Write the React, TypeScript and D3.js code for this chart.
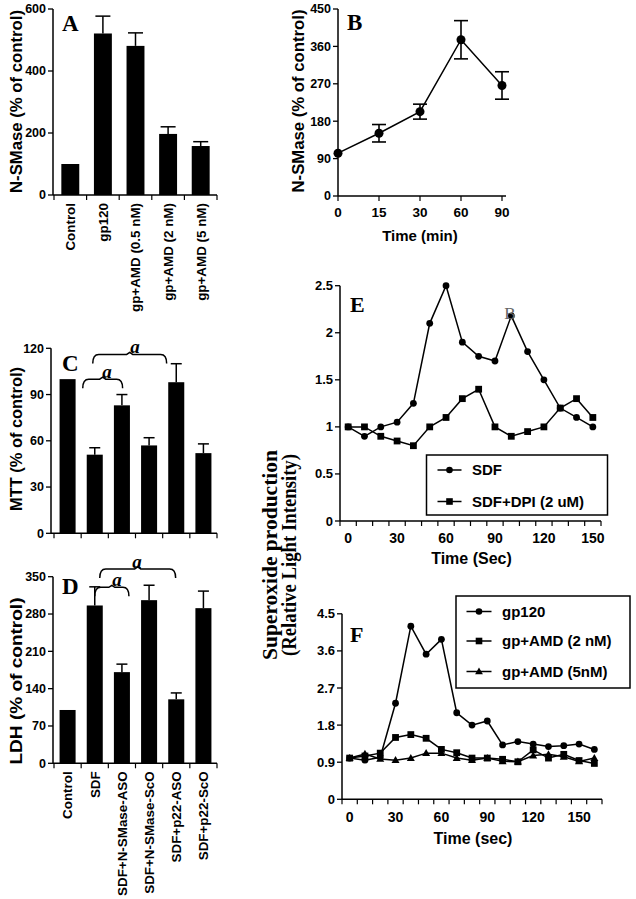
import React from "react";
import * as d3 from "d3";

const SANS = "'Liberation Sans', Arial, Helvetica, sans-serif";
const SERIF = "'Liberation Serif', 'Times New Roman', Times, serif";

// ---------- Panel A ----------
const aCategories = ["Control", "gp120", "gp+AMD (0.5 nM)", "gp+AMD (2 nM)", "gp+AMD (5 nM)"];
const aValues = [100, 521, 481, 197, 158];
const aErrors = [0, 56, 42, 23, 14];
const aTicks = [0, 200, 400, 600];

// ---------- Panel B ----------
const bTimes = ["0", "15", "30", "60", "90"];
const bValues = [103, 151, 203, 376, 266];
const bErrors = [0, 21, 18, 46, 33];
const bTicks = [0, 90, 180, 270, 360, 450];

// ---------- Panel C ----------
const cCategories = ["Control", "SDF", "SDF+N-SMase-ASO", "SDF+N-SMase-ScO", "SDF+p22-ASO", "SDF+p22-ScO"];
const cValues = [100, 51, 83, 57, 98, 52];
const cErrors = [0, 4.5, 7, 5, 12, 6];
const cTicks = [0, 30, 60, 90, 120];

// ---------- Panel D ----------
const dCategories = ["Control", "SDF", "SDF+N-SMase-ASO", "SDF+N-SMase-ScO", "SDF+p22-ASO", "SDF+p22-ScO"];
const dValues = [100, 296, 171, 306, 120, 291];
const dErrors = [0, 35, 15, 28, 12, 32];
const dTicks = [0, 70, 140, 210, 280, 350];

// ---------- Panel E ----------
const eTimes = [0, 10, 20, 30, 40, 50, 60, 70, 80, 90, 100, 110, 120, 130, 140, 150];
const eSDF = [1.0, 0.9, 1.0, 1.05, 1.25, 2.1, 2.5, 1.9, 1.75, 1.7, 2.18, 1.8, 1.5, 1.2, 1.1, 1.0];
const eSDFDPI = [1.0, 1.0, 0.9, 0.85, 0.8, 1.0, 1.1, 1.3, 1.4, 1.0, 0.9, 0.95, 1.0, 1.2, 1.3, 1.1];
const eYTicks = [0, 0.5, 1, 1.5, 2, 2.5];
const eXLabels = [0, 30, 60, 90, 120, 150];

// ---------- Panel F ----------
const fTimes = [0, 10, 20, 30, 40, 50, 60, 70, 80, 90, 100, 110, 120, 130, 140, 150, 160];
const fGp120 = [1.0, 0.95, 1.02, 2.33, 4.2, 3.52, 3.88, 2.1, 1.8, 1.9, 1.32, 1.4, 1.34, 1.28, 1.3, 1.34, 1.21];
const fAMD2 = [1.0, 1.05, 1.12, 1.5, 1.57, 1.48, 1.21, 1.13, 1.0, 1.0, 0.97, 0.91, 1.2, 1.0, 1.09, 0.94, 0.87];
const fAMD5 = [1.0, 1.1, 0.98, 0.95, 1.0, 1.12, 1.12, 1.0, 0.95, 1.0, 0.92, 0.91, 1.06, 1.09, 1.03, 0.92, 1.0];
const fYTicks = [0, 0.9, 1.8, 2.7, 3.6, 4.5];
const fXLabels = [0, 30, 60, 90, 120, 150];

type Shape = "circle" | "square" | "triangle";

function Marker({ x, y, shape, s = 3.6 }: { x: number; y: number; shape: Shape; s?: number }) {
  if (shape === "circle") return <circle cx={x} cy={y} r={s} fill="#000" />;
  if (shape === "square") return <rect x={x - s} y={y - s} width={2 * s} height={2 * s} fill="#000" />;
  return <path d={`M${x},${y - s - 0.8} L${x + s + 0.6},${y + s - 0.6} L${x - s - 0.6},${y + s - 0.6} Z`} fill="#000" />;
}

function YAxis({ x, scale, ticks, fmt, fontSize = 12.5 }: any) {
  const [d0, d1] = scale.domain();
  return (
    <g>
      <line x1={x} x2={x} y1={scale(d0)} y2={scale(d1)} stroke="#000" strokeWidth={1.5} />
      {ticks.map((t: number) => (
        <g key={t}>
          <line x1={x - 5} x2={x} y1={scale(t)} y2={scale(t)} stroke="#000" strokeWidth={1.3} />
          <text x={x - 7} y={scale(t)} dy="0.35em" textAnchor="end" fontFamily={SANS} fontWeight="bold" fontSize={fontSize}>
            {fmt ? fmt(t) : t}
          </text>
        </g>
      ))}
    </g>
  );
}

function bracketPath(x1: number, x2: number, yTop: number, yEnd: number) {
  const r = 6;
  const m = (x1 + x2) / 2;
  return `M${x1},${yEnd} Q${x1},${yTop} ${x1 + r},${yTop} L${m - 3},${yTop} L${m},${yTop - 2} L${m + 3},${yTop} L${x2 - r},${yTop} Q${x2},${yTop} ${x2},${yEnd}`;
}

function BarPanel(props: any) {
  const { cats, vals, errs, yMax, ticks, yTop, yBottom, axisX, xStart, xEnd, pad, capW, showLabels, letter, letterX, letterY, title, titleCenter, titleLen, brackets } = props;
  const y = d3.scaleLinear().domain([0, yMax]).range([yBottom, yTop]);
  const x = d3.scaleBand<string>().domain(cats).range([xStart, xEnd]).paddingInner(pad).paddingOuter(pad / 2);
  const bw = x.bandwidth();
  const step = x.step();
  const boundaries = d3.range(cats.length + 1).map((i) => xStart + i * step);
  const center = (i: number) => (x(cats[i]) as number) + bw / 2;
  return (
    <g>
      {cats.map((c: string, i: number) => {
        const cx = center(i);
        return (
          <g key={c}>
            <rect x={x(c)} y={y(vals[i])} width={bw} height={yBottom - y(vals[i])} fill="#000" />
            {errs[i] > 0 && (
              <g stroke="#000" strokeWidth={1.5}>
                <line x1={cx} x2={cx} y1={y(vals[i])} y2={y(vals[i] + errs[i])} />
                <line x1={cx - capW / 2} x2={cx + capW / 2} y1={y(vals[i] + errs[i])} y2={y(vals[i] + errs[i])} />
              </g>
            )}
          </g>
        );
      })}
      <YAxis x={axisX} scale={y} ticks={ticks} />
      <line x1={axisX} x2={xEnd} y1={yBottom} y2={yBottom} stroke="#000" strokeWidth={1.5} />
      {boundaries.map((bx: number, i: number) => (
        <line key={i} x1={bx} x2={bx} y1={yBottom} y2={yBottom + 5} stroke="#000" strokeWidth={1.2} />
      ))}
      {showLabels &&
        cats.map((c: string, i: number) => {
          const cx = center(i);
          const ly = yBottom + 8;
          return (
            <text key={c} x={cx} y={ly} dy="0.36em" transform={`rotate(-90, ${cx}, ${ly})`} textAnchor="end" fontFamily={SANS} fontWeight="bold" fontSize={13.4}>
              {c}
            </text>
          );
        })}
      <text x={letterX} y={letterY} fontFamily={SERIF} fontWeight="bold" fontSize={23}>
        {letter}
      </text>
      <text x={16} y={titleCenter} dy="0.35em" transform={`rotate(-90, 16, ${titleCenter})`} textAnchor="middle" fontFamily={SANS} fontWeight="bold" fontSize={16.5} textLength={titleLen} lengthAdjust="spacingAndGlyphs">
        {title}
      </text>
      {brackets &&
        brackets.map((b: any, i: number) => {
          const x1 = center(b.from) + b.dx1;
          const x2 = center(b.to) + b.dx2;
          const yt = y(b.level);
          return (
            <g key={i}>
              <path d={bracketPath(x1, x2, yt, yt + 9)} fill="none" stroke="#000" strokeWidth={1.5} />
              <text x={b.lx} y={yt - 1} textAnchor="middle" fontFamily={SERIF} fontStyle="italic" fontWeight="bold" fontSize={19}>
                a
              </text>
            </g>
          );
        })}
    </g>
  );
}

function PanelB() {
  const y = d3.scaleLinear().domain([0, 450]).range([196, 9]);
  const x = d3.scalePoint<string>().domain(bTimes).range([338, 502]);
  const line = d3.line<number>().x((_, i) => x(bTimes[i]) as number).y((v) => y(v));
  return (
    <g>
      <path d={line(bValues) as string} fill="none" stroke="#000" strokeWidth={1.5} />
      {bTimes.map((t, i) => {
        const cx = x(t) as number;
        return (
          <g key={t}>
            {bErrors[i] > 0 && (
              <g stroke="#000" strokeWidth={1.6}>
                <line x1={cx} x2={cx} y1={y(bValues[i] - bErrors[i])} y2={y(bValues[i] + bErrors[i])} />
                <line x1={cx - 7} x2={cx + 7} y1={y(bValues[i] + bErrors[i])} y2={y(bValues[i] + bErrors[i])} />
                <line x1={cx - 7} x2={cx + 7} y1={y(bValues[i] - bErrors[i])} y2={y(bValues[i] - bErrors[i])} />
              </g>
            )}
            <circle cx={cx} cy={y(bValues[i])} r={4.5} fill="#000" />
          </g>
        );
      })}
      <YAxis x={338} scale={y} ticks={bTicks} />
      <line x1={338} x2={506} y1={196} y2={196} stroke="#000" strokeWidth={1.5} />
      {bTimes.map((t) => (
        <g key={t}>
          <line x1={x(t)} x2={x(t)} y1={196} y2={201} stroke="#000" strokeWidth={1.2} />
          <text x={x(t)} y={212} dy="0.35em" textAnchor="middle" fontFamily={SANS} fontWeight="bold" fontSize={13.5}>
            {t}
          </text>
        </g>
      ))}
      <text x={420} y={236} dy="0.35em" textAnchor="middle" fontFamily={SANS} fontWeight="bold" fontSize={15}>
        Time (min)
      </text>
      <text x={298} y={101} dy="0.35em" transform="rotate(-90, 298, 101)" textAnchor="middle" fontFamily={SANS} fontWeight="bold" fontSize={16.5} textLength={183} lengthAdjust="spacingAndGlyphs">
        N-SMase (% of control)
      </text>
      <text x={347} y={30} fontFamily={SERIF} fontWeight="bold" fontSize={23}>
        B
      </text>
    </g>
  );
}

function TimeAxis({ x, yPos, ticks, labels, labelY, title, titleY }: any) {
  const [d0, d1] = x.domain();
  return (
    <g>
      <line x1={x(d0)} x2={x(d1)} y1={yPos} y2={yPos} stroke="#000" strokeWidth={1.5} />
      {ticks.map((t: number) => (
        <line key={t} x1={x(t)} x2={x(t)} y1={yPos} y2={yPos + 5} stroke="#000" strokeWidth={1.2} />
      ))}
      {labels.map((t: number) => (
        <text key={t} x={x(t)} y={labelY} dy="0.35em" textAnchor="middle" fontFamily={SANS} fontWeight="bold" fontSize={14}>
          {t}
        </text>
      ))}
      <text x={x(d0) + (x(d1) - x(d0)) / 2 + 1} y={titleY} dy="0.35em" textAnchor="middle" fontFamily={SANS} fontWeight="bold" fontSize={16}>
        {title}
      </text>
    </g>
  );
}

function Legend({ x, y, w, h, entries, rowYs, lineX1, lineX2, textX }: any) {
  return (
    <g>
      <rect x={x} y={y} width={w} height={h} fill="#fff" stroke="#000" strokeWidth={1.5} />
      {entries.map((e: any, i: number) => (
        <g key={e.label}>
          <line x1={lineX1} x2={lineX2} y1={rowYs[i]} y2={rowYs[i]} stroke="#000" strokeWidth={1.5} />
          <Marker x={(lineX1 + lineX2) / 2} y={rowYs[i]} shape={e.shape} s={3.3} />
          <text x={textX} y={rowYs[i]} dy="0.35em" fontFamily={SANS} fontWeight="bold" fontSize={15}>
            {e.label}
          </text>
        </g>
      ))}
    </g>
  );
}

function PanelE() {
  const x = d3.scaleLinear().domain([-5, 155]).range([340, 601]);
  const y = d3.scaleLinear().domain([0, 2.5]).range([521, 285.7]);
  const series = [
    { vals: eSDF, shape: "circle" as Shape, label: "SDF" },
    { vals: eSDFDPI, shape: "square" as Shape, label: "SDF+DPI (2 uM)" },
  ];
  const line = (vals: number[]) => d3.line<number>().x((_, i) => x(eTimes[i])).y((v) => y(v))(vals) as string;
  return (
    <g>
      {series.map((s) => (
        <g key={s.label}>
          <path d={line(s.vals)} fill="none" stroke="#000" strokeWidth={1.5} />
          {s.vals.map((v, i) => (
            <Marker key={i} x={x(eTimes[i])} y={y(v)} shape={s.shape} s={3.4} />
          ))}
        </g>
      ))}
      <text x={510} y={319} textAnchor="middle" fontFamily={SERIF} fontSize={17} fill="#666">
        B
      </text>
      <YAxis x={340} scale={y} ticks={eYTicks} fmt={(t: number) => String(t)} fontSize={13} />
      <TimeAxis x={x} yPos={521} ticks={d3.range(-5, 156, 10)} labels={eXLabels} labelY={538} title="Time (Sec)" titleY={558} />
      <Legend x={426.5} y={455} w={181} h={60} entries={series} rowYs={[470, 501.5]} lineX1={437.5} lineX2={461.5} textX={472} />
      <text x={350} y={312} fontFamily={SERIF} fontWeight="bold" fontSize={22}>
        E
      </text>
    </g>
  );
}

function PanelF() {
  const x = d3.scaleLinear().domain([-5, 165]).range([342, 602]);
  const y = d3.scaleLinear().domain([0, 4.5]).range([799.3, 613.8]);
  const series = [
    { vals: fGp120, shape: "circle" as Shape, label: "gp120" },
    { vals: fAMD2, shape: "square" as Shape, label: "gp+AMD (2 nM)" },
    { vals: fAMD5, shape: "triangle" as Shape, label: "gp+AMD (5nM)" },
  ];
  const line = (vals: number[]) => d3.line<number>().x((_, i) => x(fTimes[i])).y((v) => y(v))(vals) as string;
  return (
    <g>
      {series.map((s) => (
        <g key={s.label}>
          <path d={line(s.vals)} fill="none" stroke="#000" strokeWidth={1.5} />
          {s.vals.map((v, i) => (
            <Marker key={i} x={x(fTimes[i])} y={y(v)} shape={s.shape} s={3.4} />
          ))}
        </g>
      ))}
      <YAxis x={342} scale={y} ticks={fYTicks} fmt={(t: number) => String(t)} fontSize={13} />
      <TimeAxis x={x} yPos={799.3} ticks={d3.range(-5, 166, 10)} labels={fXLabels} labelY={817} title="Time (sec)" titleY={838} />
      <Legend x={456} y={596} w={174} h={92} entries={series} rowYs={[611.5, 641, 671.5]} lineX1={466.5} lineX2={491.5} textX={502} />
      <text x={350} y={642} fontFamily={SERIF} fontWeight="bold" fontSize={22}>
        F
      </text>
    </g>
  );
}

export default function App() {
  return (
    <svg width={636} height={899} viewBox="0 0 636 899" style={{ position: "absolute", left: 0, top: 0, background: "#fff" }}>
      <rect width={636} height={899} fill="#fff" />
      <BarPanel
        cats={aCategories} vals={aValues} errs={aErrors} yMax={600} ticks={aTicks}
        yTop={9} yBottom={195} axisX={53} xStart={54} xEnd={217} pad={0.45} capW={15}
        showLabels letter="A" letterX={62} letterY={31}
        title="N-SMase (% of control)" titleCenter={101.5} titleLen={183}
      />
      <PanelB />
      <BarPanel
        cats={cCategories} vals={cValues} errs={cErrors} yMax={120} ticks={cTicks}
        yTop={348.3} yBottom={533.3} axisX={51} xStart={54} xEnd={217} pad={0.41} capW={11}
        showLabels={false} letter="C" letterX={62} letterY={371}
        title="MTT (% of control)" titleCenter={439} titleLen={144}
        brackets={[
          { from: 1, to: 2, dx1: -12, dx2: 0.7, level: 100, lx: 107 },
          { from: 1, to: 4, dx1: -2, dx2: -9.6, level: 116, lx: 135 },
        ]}
      />
      <BarPanel
        cats={dCategories} vals={dValues} errs={dErrors} yMax={350} ticks={dTicks}
        yTop={576.7} yBottom={763.3} axisX={53} xStart={54} xEnd={217} pad={0.41} capW={11}
        showLabels letter="D" letterX={62} letterY={594}
        title="LDH (% of control)" titleCenter={681} titleLen={167}
        brackets={[
          { from: 1, to: 2, dx1: 0, dx2: 7, level: 330, lx: 117 },
          { from: 1, to: 4, dx1: 5, dx2: -0.6, level: 364.5, lx: 137 },
        ]}
      />
      <PanelE />
      <PanelF />
      <g fontFamily={SERIF} fontWeight="bold" fontSize={21} textAnchor="middle">
        <text x={270} y={555} dy="0.35em" transform="rotate(-90, 270, 555)" textLength={210} lengthAdjust="spacingAndGlyphs">
          Superoxide production
        </text>
        <text x={289} y={555} dy="0.35em" transform="rotate(-90, 289, 555)" textLength={202} lengthAdjust="spacingAndGlyphs">
          (Relative Light Intensity)
        </text>
      </g>
    </svg>
  );
}
